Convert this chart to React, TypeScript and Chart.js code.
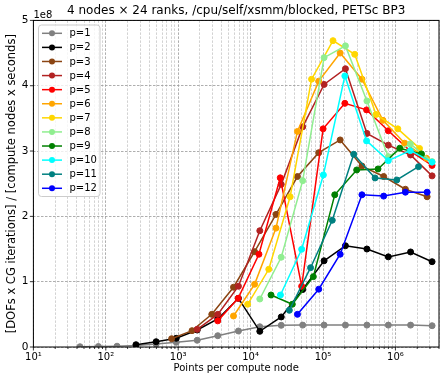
import React, { useEffect, useRef } from "react";
import { Chart, registerables } from "chart.js";

Chart.register(...registerables);

// ---------- data ----------
const SCALE = 1e8; // rates below are in units of 1e8

const seriesNames = ["p=1", "p=2", "p=3", "p=4", "p=5", "p=6", "p=7", "p=8", "p=9", "p=10", "p=11", "p=12"];

const p1Points = [44, 79, 143, 261, 496, 940, 1830, 3520, 6790, 13400, 26500, 52400, 103500, 204000, 404000, 798000, 1620000, 3210000];
const p1Rate = [0.004, 0.007, 0.012, 0.022, 0.045, 0.072, 0.103, 0.173, 0.245, 0.31, 0.332, 0.335, 0.335, 0.335, 0.335, 0.335, 0.335, 0.326];

const p2Points = [261, 496, 940, 1830, 3520, 6790, 13400, 26500, 52400, 103500, 204000, 404000, 798000, 1620000, 3210000];
const p2Rate = [0.035, 0.081, 0.133, 0.26, 0.43, 0.745, 0.24, 0.46, 0.88, 1.32, 1.55, 1.5, 1.38, 1.455, 1.306];

const p3Points = [811, 1553, 2910, 5807, 11350, 22430, 44350, 87330, 172600, 344900, 688400, 1374000, 2742000];
const p3Rate = [0.127, 0.25, 0.5, 0.915, 1.46, 2.03, 2.61, 2.975, 3.17, 2.77, 2.61, 2.415, 2.3];

const p4Points = [1830, 3520, 6790, 13400, 26500, 52400, 103500, 204000, 404000, 798000, 1620000, 3210000];
const p4Rate = [0.27, 0.5, 0.93, 1.78, 2.49, 3.37, 4.02, 4.26, 3.27, 3.09, 2.94, 2.62];

const p5Points = [3515, 6730, 13030, 25660, 50720, 100300, 200300, 399800, 798000, 1607000, 3207000];
const p5Rate = [0.4, 0.745, 1.42, 2.59, 0.93, 3.34, 3.73, 3.63, 3.31, 3.0, 2.78];

const p6Points = [5807, 11350, 22430, 44350, 87330, 172600, 344900, 673000, 1343000, 2680000];
const p6Rate = [0.475, 0.96, 1.82, 3.3, 4.07, 4.5, 4.1, 3.47, 3.12, 2.89];

const p7Points = [9100, 17820, 35150, 69500, 137400, 274200, 540400, 1079000, 2153000];
const p7Rate = [0.654, 1.19, 2.3, 4.1, 4.69, 4.48, 3.56, 3.34, 3.04];

const p8Points = [13400, 26500, 52400, 103500, 204000, 404000, 798000, 1607000, 3207000];
const p8Rate = [0.735, 1.374, 2.547, 4.43, 4.61, 3.767, 2.914, 3.109, 2.838];

const p9Points = [19150, 37660, 73500, 145300, 291900, 575400, 1148000, 2291000];
const p9Rate = [0.796, 0.654, 1.077, 2.33, 2.71, 2.726, 3.043, 2.956];

const p10Points = [25820, 50720, 101200, 200300, 399800, 798000, 1607000, 3207000];
const p10Rate = [0.796, 1.496, 2.634, 4.15, 3.155, 2.853, 3.006, 2.83];

const p11Points = [34270, 67300, 134300, 265600, 523600, 1045000, 2085000];
const p11Rate = [0.562, 1.214, 1.94, 2.951, 2.588, 2.557, 2.761];

const p12Points = [44350, 87330, 172600, 344900, 688400, 1374000, 2742000];
const p12Rate = [0.5, 0.885, 1.42, 2.33, 2.31, 2.37, 2.37];

const pointsBySeries = [p1Points, p2Points, p3Points, p4Points, p5Points, p6Points, p7Points, p8Points, p9Points, p10Points, p11Points, p12Points];
const ratesBySeries = [p1Rate, p2Rate, p3Rate, p4Rate, p5Rate, p6Rate, p7Rate, p8Rate, p9Rate, p10Rate, p11Rate, p12Rate];

const yTickValues = [0, 1, 2, 3, 4, 5];
const xDecadeExponents = [1, 2, 3, 4, 5, 6];
const X_MIN = 10;
const X_MAX = 4e6;

const TITLE = "4 nodes \u00d7 24 ranks, /cpu/self/xsmm/blocked, PETSc BP3";
const X_LABEL = "Points per compute node";
const Y_LABEL = "[DOFs x CG iterations] / [compute nodes x seconds]";
const OFFSET_LABEL = "1e8";

// ---------- styles ----------
const colors = ["#808080", "#000000", "#8b4513", "#b22222", "#ff0000", "#ffa500", "#ffd700", "#90ee90", "#008000", "#00ffff", "#008080", "#0000ff"];
const FONT = '"DejaVu Sans", sans-serif';
const SUP: Record<string, string> = { "0": "\u2070", "1": "\u00b9", "2": "\u00b2", "3": "\u00b3", "4": "\u2074", "5": "\u2075", "6": "\u2076", "7": "\u2077", "8": "\u2078", "9": "\u2079" };

const isMajor = (v: number) => Math.abs(Math.log10(v) - Math.round(Math.log10(v))) < 1e-9;

function buildXTicks() {
  const out: { value: number; major: boolean }[] = [];
  for (const e of xDecadeExponents) {
    for (let m = 1; m <= 9; m++) {
      const v = m * Math.pow(10, e);
      if (v >= X_MIN && v <= X_MAX) out.push({ value: v, major: m === 1 });
    }
  }
  return out;
}

const decorPlugin = {
  id: "decor",
  afterDraw(chart: any) {
    const { ctx, chartArea: a, scales } = chart;
    ctx.save();
    // tick marks
    ctx.strokeStyle = "#000";
    ctx.lineWidth = 0.8;
    ctx.setLineDash([]);
    const xs = scales.x;
    for (const t of xs.ticks) {
      const px = xs.getPixelForValue(t.value);
      const len = isMajor(t.value) ? 3.5 : 2;
      ctx.beginPath();
      ctx.moveTo(px, a.bottom);
      ctx.lineTo(px, a.bottom + len);
      ctx.stroke();
    }
    const ys = scales.y;
    for (const t of ys.ticks) {
      const py = ys.getPixelForValue(t.value);
      ctx.beginPath();
      ctx.moveTo(a.left - 3.5, py);
      ctx.lineTo(a.left, py);
      ctx.stroke();
    }
    // frame
    ctx.lineWidth = 1;
    ctx.strokeRect(a.left, a.top, a.right - a.left, a.bottom - a.top);

    // texts
    ctx.fillStyle = "#000";
    ctx.textAlign = "center";
    ctx.textBaseline = "middle";
    ctx.font = `12px ${FONT}`;
    ctx.fillText(TITLE, (a.left + a.right) / 2, 10.5);

    ctx.font = `10px ${FONT}`;
    ctx.fillText(X_LABEL, (a.left + a.right) / 2, 368);

    ctx.textAlign = "left";
    ctx.textBaseline = "alphabetic";
    ctx.fillText(OFFSET_LABEL, a.left, 17.5);

    ctx.save();
    ctx.translate(12, (a.top + a.bottom) / 2);
    ctx.rotate(-Math.PI / 2);
    ctx.textAlign = "center";
    ctx.textBaseline = "middle";
    ctx.font = `11.5px ${FONT}`;
    ctx.fillText(Y_LABEL, 0, 0);
    ctx.restore();

    // legend
    const lx = 38.5, ly = 25, lw = 61.5, lh = 171.5;
    ctx.beginPath();
    (ctx as any).roundRect(lx, ly, lw, lh, 3);
    ctx.fillStyle = "rgba(255,255,255,0.8)";
    ctx.fill();
    ctx.strokeStyle = "#cccccc";
    ctx.lineWidth = 1;
    ctx.stroke();
    ctx.font = `10px ${FONT}`;
    ctx.textAlign = "left";
    ctx.textBaseline = "middle";
    seriesNames.forEach((name, i) => {
      const y = 33.3 + i * 14.09;
      ctx.strokeStyle = colors[i];
      ctx.lineWidth = 1.5;
      ctx.beginPath();
      ctx.moveTo(42, y);
      ctx.lineTo(62, y);
      ctx.stroke();
      ctx.fillStyle = colors[i];
      ctx.beginPath();
      ctx.arc(52, y, 3, 0, Math.PI * 2);
      ctx.fill();
      ctx.fillStyle = "#000";
      ctx.fillText(name, 69.5, y + 0.5);
    });
    ctx.restore();
  },
};

export default function App() {
  const canvasRef = useRef<HTMLCanvasElement | null>(null);

  useEffect(() => {
    document.body.style.margin = "0";
    const canvas = canvasRef.current;
    if (!canvas) return;

    const datasets = seriesNames.map((name, i) => ({
      label: name,
      data: pointsBySeries[i].map((x, j) => ({ x, y: ratesBySeries[i][j] * SCALE })),
      borderColor: colors[i],
      backgroundColor: colors[i],
      pointBackgroundColor: colors[i],
      pointBorderColor: colors[i],
      borderWidth: 1.5,
      pointRadius: 3,
      pointBorderWidth: 1,
      tension: 0,
      order: seriesNames.length - i,
    }));

    const chart = new Chart(canvas, {
      type: "line",
      data: { datasets },
      plugins: [decorPlugin],
      options: {
        animation: false,
        responsive: false,
        devicePixelRatio: 1,
        layout: { padding: { top: 20.4, left: 0, right: 0, bottom: 0 } },
        plugins: { legend: { display: false }, title: { display: false }, tooltip: { enabled: false } },
        scales: {
          x: {
            type: "logarithmic",
            min: X_MIN,
            max: X_MAX,
            afterBuildTicks: (axis: any) => {
              axis.ticks = buildXTicks().map((t) => ({ value: t.value, major: t.major }));
            },
            afterFit: (axis: any) => {
              axis.height = 29;
            },
            ticks: {
              autoSkip: false,
              maxRotation: 0,
              minRotation: 0,
              padding: 4,
              color: "#000",
              font: { family: FONT, size: 10 },
              callback: (value: any) => {
                const v = Number(value);
                if (!isMajor(v)) return "";
                const e = String(Math.round(Math.log10(v)));
                return "10" + e.split("").map((c) => SUP[c] || c).join("");
              },
            },
            grid: {
              drawTicks: false,
              color: (c: any) => (c.tick && isMajor(c.tick.value) ? "rgba(160,160,160,0.95)" : "rgba(175,175,175,0.8)"),
              lineWidth: (c: any) => (c.tick && isMajor(c.tick.value) ? 0.9 : 0.7),
            },
            border: { display: false, dash: [2.5, 1.5] },
          },
          y: {
            type: "linear",
            min: 0,
            max: 5 * SCALE,
            afterBuildTicks: (axis: any) => {
              axis.ticks = yTickValues.map((v) => ({ value: v * SCALE }));
            },
            afterFit: (axis: any) => {
              axis.width = 33.4;
            },
            ticks: {
              padding: 5,
              color: "#000",
              font: { family: FONT, size: 10.5 },
              callback: (value: any) => String(Math.round(Number(value) / SCALE)),
            },
            grid: {
              drawTicks: false,
              color: "rgba(160,160,160,0.95)",
              lineWidth: 0.9,
            },
            border: { display: false, dash: [2.5, 1.5] },
          },
        },
      } as any,
    });

    return () => chart.destroy();
  }, []);

  return (
    <div style={{ position: "fixed", left: 0, top: 0, width: 444, height: 376, background: "#fff" }}>
      <canvas ref={canvasRef} width={444} height={376} style={{ width: 444, height: 376, display: "block" }} />
    </div>
  );
}
